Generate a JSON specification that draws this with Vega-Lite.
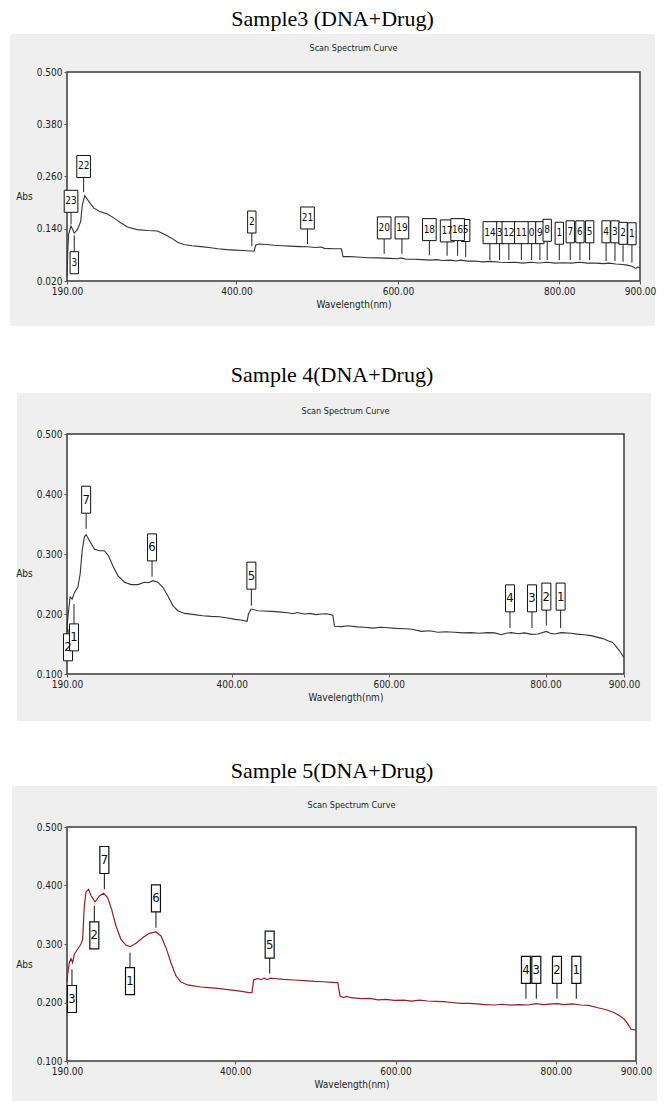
{
"$schema": "https://vega.github.io/schema/vega-lite/v6.json",
"padding": {"left": 10, "top": 8, "right": 9, "bottom": 6},
"background": "white",
"bounds": "flush",
"spacing": 153,
"config": {
 "view": {"stroke": null},
 "title": {"font": "Liberation Serif", "fontSize": 22, "fontWeight": "normal", "color": "#000", "anchor": "middle", "frame": "group"},
 "axis": {"grid": false, "domain": false, "ticks": true, "tickSize": 3, "tickColor": "#555", "labelFont": "Liberation Sans Narrow, Arial Narrow, DejaVu Sans Condensed, Liberation Sans, sans-serif", "labelFontSize": 10, "labelColor": "#222", "labelPadding": 2, "labelFlush": false, "labelOverlap": false, "titleFont": "Liberation Sans Narrow, Arial Narrow, DejaVu Sans Condensed, Liberation Sans, sans-serif", "titleFontSize": 10, "titleFontWeight": "normal", "titleColor": "#222", "zindex": 1}
},
"datasets": {
 "s3": [
  {"wl":190,"abs":0.03},{"wl":191,"abs":0.09},{"wl":192,"abs":0.128},{"wl":195,"abs":0.146},{"wl":199,"abs":0.130},{"wl":203,"abs":0.138},{"wl":207,"abs":0.157},{"wl":209,"abs":0.195},{"wl":212,"abs":0.216},{"wl":217,"abs":0.203},{"wl":223,"abs":0.188},{"wl":230,"abs":0.180},{"wl":240,"abs":0.174},{"wl":248,"abs":0.165},{"wl":257,"abs":0.153},{"wl":265,"abs":0.144},{"wl":277,"abs":0.138},{"wl":290,"abs":0.136},{"wl":302,"abs":0.135},{"wl":310,"abs":0.128},{"wl":319,"abs":0.119},{"wl":327,"abs":0.109},{"wl":335,"abs":0.104},{"wl":345,"abs":0.101},{"wl":356,"abs":0.099},{"wl":366,"abs":0.097},{"wl":377,"abs":0.094},{"wl":388,"abs":0.092},{"wl":398,"abs":0.091},{"wl":408,"abs":0.090},{"wl":418,"abs":0.089},{"wl":422,"abs":0.089},{"wl":424,"abs":0.103},{"wl":428,"abs":0.105},{"wl":437,"abs":0.104},{"wl":447,"abs":0.102},{"wl":457,"abs":0.101},{"wl":467,"abs":0.100},{"wl":478,"abs":0.099},{"wl":488,"abs":0.0985},{"wl":498,"abs":0.097},{"wl":505,"abs":0.098},{"wl":509,"abs":0.095},{"wl":520,"abs":0.094},{"wl":530,"abs":0.094},{"wl":532,"abs":0.076},{"wl":540,"abs":0.076},{"wl":550,"abs":0.075},{"wl":562,"abs":0.0735},{"wl":575,"abs":0.073},{"wl":590,"abs":0.072},{"wl":600,"abs":0.071},{"wl":604,"abs":0.073},{"wl":610,"abs":0.070},{"wl":620,"abs":0.070},{"wl":630,"abs":0.069},{"wl":640,"abs":0.068},{"wl":648,"abs":0.069},{"wl":655,"abs":0.067},{"wl":665,"abs":0.068},{"wl":672,"abs":0.066},{"wl":678,"abs":0.068},{"wl":686,"abs":0.0657},{"wl":695,"abs":0.066},{"wl":705,"abs":0.064},{"wl":715,"abs":0.065},{"wl":727,"abs":0.063},{"wl":735,"abs":0.0625},{"wl":745,"abs":0.063},{"wl":755,"abs":0.061},{"wl":765,"abs":0.063},{"wl":775,"abs":0.0615},{"wl":785,"abs":0.063},{"wl":795,"abs":0.061},{"wl":805,"abs":0.062},{"wl":815,"abs":0.061},{"wl":825,"abs":0.063},{"wl":835,"abs":0.061},{"wl":845,"abs":0.061},{"wl":855,"abs":0.060},{"wl":862,"abs":0.061},{"wl":870,"abs":0.059},{"wl":878,"abs":0.058},{"wl":884,"abs":0.0565},{"wl":890,"abs":0.054},{"wl":895,"abs":0.049},{"wl":897,"abs":0.052},{"wl":900,"abs":0.051}
 ],
 "a3": [
  {"wl":195,"label":"23","tip":0.150,"box":0.203},
  {"wl":199,"label":"3","tip":0.125,"box":0.062},
  {"wl":210.6,"label":"22","tip":0.224,"box":0.283},
  {"wl":419,"label":"2","tip":0.100,"box":0.1555},
  {"wl":488,"label":"21","tip":0.105,"box":0.1647},
  {"wl":583,"label":"20","tip":0.0824,"box":0.142},
  {"wl":605,"label":"19","tip":0.0824,"box":0.142},
  {"wl":639,"label":"18","tip":0.079,"box":0.138},
  {"wl":661,"label":"17","tip":0.078,"box":0.135},
  {"wl":674,"label":"16","tip":0.078,"box":0.138},
  {"wl":684,"label":"5","tip":0.0755,"box":0.136},
  {"wl":714,"label":"14","tip":0.068,"box":0.131},
  {"wl":726,"label":"3","tip":0.068,"box":0.131},
  {"wl":737.5,"label":"12","tip":0.068,"box":0.131},
  {"wl":753,"label":"11","tip":0.068,"box":0.131},
  {"wl":765.7,"label":"0","tip":0.068,"box":0.131},
  {"wl":776,"label":"9","tip":0.068,"box":0.131},
  {"wl":785,"label":"8","tip":0.068,"box":0.1365},
  {"wl":800,"label":"1","tip":0.068,"box":0.1297},
  {"wl":813.6,"label":"7","tip":0.068,"box":0.133},
  {"wl":825.6,"label":"6","tip":0.068,"box":0.133},
  {"wl":837.6,"label":"5","tip":0.068,"box":0.133},
  {"wl":858,"label":"4","tip":0.066,"box":0.133},
  {"wl":869,"label":"3","tip":0.066,"box":0.133},
  {"wl":879,"label":"2","tip":0.064,"box":0.1295},
  {"wl":890,"label":"1","tip":0.062,"box":0.1285}
 ],
 "s4": [
  {"wl":190,"abs":0.17},{"wl":190.4,"abs":0.183},{"wl":192,"abs":0.2055},{"wl":194,"abs":0.228},{"wl":196.6,"abs":0.225},{"wl":199.6,"abs":0.236},{"wl":203.8,"abs":0.2445},{"wl":206.8,"abs":0.267},{"wl":209.3,"abs":0.3055},{"wl":212.3,"abs":0.329},{"wl":214.4,"abs":0.332},{"wl":218.7,"abs":0.322},{"wl":225,"abs":0.308},{"wl":231.4,"abs":0.3055},{"wl":237.8,"abs":0.3055},{"wl":242.9,"abs":0.297},{"wl":248.4,"abs":0.2805},{"wl":254.8,"abs":0.264},{"wl":263.3,"abs":0.253},{"wl":271.8,"abs":0.249},{"wl":280.3,"abs":0.249},{"wl":288.8,"abs":0.253},{"wl":294,"abs":0.252},{"wl":299.4,"abs":0.2556},{"wl":305.8,"abs":0.253},{"wl":312.2,"abs":0.2445},{"wl":318.5,"abs":0.2305},{"wl":324.9,"abs":0.214},{"wl":331.3,"abs":0.2055},{"wl":339.8,"abs":0.201},{"wl":352.5,"abs":0.199},{"wl":363,"abs":0.197},{"wl":373.8,"abs":0.196},{"wl":384,"abs":0.1955},{"wl":395,"abs":0.1933},{"wl":404,"abs":0.191},{"wl":412,"abs":0.19},{"wl":419.6,"abs":0.1878},{"wl":421.3,"abs":0.2},{"wl":424.7,"abs":0.2083},{"wl":433.2,"abs":0.2055},{"wl":441,"abs":0.205},{"wl":450.2,"abs":0.2044},{"wl":460,"abs":0.2035},{"wl":471.4,"abs":0.202},{"wl":478,"abs":0.2005},{"wl":483,"abs":0.2025},{"wl":492.7,"abs":0.2},{"wl":500,"abs":0.201},{"wl":507,"abs":0.199},{"wl":514,"abs":0.2},{"wl":521,"abs":0.2005},{"wl":528.8,"abs":0.198},{"wl":531,"abs":0.1795},{"wl":540,"abs":0.179},{"wl":548,"abs":0.1805},{"wl":560,"abs":0.1785},{"wl":569.4,"abs":0.178},{"wl":580,"abs":0.1765},{"wl":590,"abs":0.178},{"wl":599,"abs":0.177},{"wl":610,"abs":0.176},{"wl":620.4,"abs":0.1755},{"wl":630,"abs":0.1745},{"wl":641.6,"abs":0.171},{"wl":652,"abs":0.172},{"wl":662.9,"abs":0.1695},{"wl":673,"abs":0.1705},{"wl":684,"abs":0.1695},{"wl":695,"abs":0.1685},{"wl":705.4,"abs":0.169},{"wl":715,"abs":0.168},{"wl":726.6,"abs":0.169},{"wl":735,"abs":0.1685},{"wl":743.6,"abs":0.1655},{"wl":750,"abs":0.168},{"wl":756.3,"abs":0.169},{"wl":765,"abs":0.167},{"wl":773.3,"abs":0.1685},{"wl":782,"abs":0.166},{"wl":790.3,"abs":0.1667},{"wl":801,"abs":0.171},{"wl":806,"abs":0.168},{"wl":811.6,"abs":0.1667},{"wl":820,"abs":0.169},{"wl":832.8,"abs":0.168},{"wl":840,"abs":0.1665},{"wl":849.8,"abs":0.1655},{"wl":858,"abs":0.164},{"wl":866.8,"abs":0.161},{"wl":873,"abs":0.159},{"wl":879.6,"abs":0.1555},{"wl":885,"abs":0.153},{"wl":890.2,"abs":0.1455},{"wl":895,"abs":0.137},{"wl":899.5,"abs":0.1278}
 ],
 "a4": [
  {"wl":191.3,"label":"2","tip":0.175,"box":0.1445},
  {"wl":198.9,"label":"1","tip":0.2167,"box":0.161},
  {"wl":214.4,"label":"7","tip":0.342,"box":0.3905},
  {"wl":298.4,"label":"6","tip":0.2622,"box":0.311},
  {"wl":425,"label":"5","tip":0.2139,"box":0.2639},
  {"wl":754.7,"label":"4","tip":0.1767,"box":0.2261},
  {"wl":782.7,"label":"3","tip":0.1767,"box":0.2261},
  {"wl":801,"label":"2","tip":0.1806,"box":0.229},
  {"wl":819.2,"label":"1","tip":0.1767,"box":0.229}
 ],
 "s5": [
  {"wl":190,"abs":0.235},{"wl":190.8,"abs":0.2482},{"wl":192.9,"abs":0.268},{"wl":195,"abs":0.2749},{"wl":197,"abs":0.268},{"wl":199.1,"abs":0.2824},{"wl":203.2,"abs":0.291},{"wl":207.4,"abs":0.2995},{"wl":209.5,"abs":0.308},{"wl":211.6,"abs":0.365},{"wl":213.7,"abs":0.389},{"wl":217,"abs":0.3935},{"wl":219.9,"abs":0.383},{"wl":224.9,"abs":0.3718},{"wl":230.3,"abs":0.382},{"wl":235.7,"abs":0.3867},{"wl":240.7,"abs":0.3792},{"wl":245.7,"abs":0.3593},{"wl":251.1,"abs":0.3308},{"wl":257.3,"abs":0.308},{"wl":263.6,"abs":0.2977},{"wl":269,"abs":0.2954},{"wl":276.1,"abs":0.3012},{"wl":284.4,"abs":0.3108},{"wl":292.7,"abs":0.3183},{"wl":301,"abs":0.3205},{"wl":307.3,"abs":0.3137},{"wl":313.5,"abs":0.2937},{"wl":319.7,"abs":0.268},{"wl":326,"abs":0.2453},{"wl":332.2,"abs":0.235},{"wl":340.5,"abs":0.23},{"wl":348,"abs":0.2285},{"wl":357.2,"abs":0.2265},{"wl":367,"abs":0.2255},{"wl":378,"abs":0.2243},{"wl":388,"abs":0.2225},{"wl":398.8,"abs":0.2208},{"wl":408,"abs":0.219},{"wl":417.5,"abs":0.2168},{"wl":420.8,"abs":0.2168},{"wl":422.9,"abs":0.2385},{"wl":427.9,"abs":0.2413},{"wl":432,"abs":0.239},{"wl":436,"abs":0.2415},{"wl":440,"abs":0.239},{"wl":444,"abs":0.2415},{"wl":448.7,"abs":0.241},{"wl":460,"abs":0.2395},{"wl":473.7,"abs":0.2385},{"wl":486,"abs":0.2375},{"wl":498.7,"abs":0.2362},{"wl":510,"abs":0.2355},{"wl":520,"abs":0.2345},{"wl":527.8,"abs":0.2339},{"wl":530.7,"abs":0.2111},{"wl":535,"abs":0.2085},{"wl":539,"abs":0.2105},{"wl":544.5,"abs":0.2082},{"wl":557,"abs":0.2065},{"wl":568,"abs":0.207},{"wl":578,"abs":0.2045},{"wl":588,"abs":0.2055},{"wl":598.4,"abs":0.2037},{"wl":610,"abs":0.204},{"wl":620,"abs":0.2025},{"wl":630,"abs":0.204},{"wl":640,"abs":0.2026},{"wl":650,"abs":0.202},{"wl":660,"abs":0.2015},{"wl":670,"abs":0.2},{"wl":681.6,"abs":0.1986},{"wl":692,"abs":0.1985},{"wl":702,"abs":0.1975},{"wl":712,"abs":0.1965},{"wl":723.2,"abs":0.1957},{"wl":733,"abs":0.197},{"wl":743,"abs":0.1955},{"wl":754,"abs":0.1965},{"wl":764.8,"abs":0.1957},{"wl":775,"abs":0.198},{"wl":785,"abs":0.1965},{"wl":795,"abs":0.1975},{"wl":802.2,"abs":0.198},{"wl":810,"abs":0.1965},{"wl":820,"abs":0.1975},{"wl":831.4,"abs":0.1957},{"wl":841,"abs":0.195},{"wl":852.2,"abs":0.1911},{"wl":862,"abs":0.188},{"wl":873,"abs":0.1826},{"wl":880,"abs":0.177},{"wl":885.4,"abs":0.1713},{"wl":890,"abs":0.163},{"wl":893.8,"abs":0.1542},{"wl":897,"abs":0.1535},{"wl":900,"abs":0.153}
 ],
 "a5": [
  {"wl":196.2,"label":"3","tip":0.2567,"box":0.206},
  {"wl":224.1,"label":"2","tip":0.365,"box":0.3148},
  {"wl":236.6,"label":"7","tip":0.3935,"box":0.4436},
  {"wl":268.6,"label":"1","tip":0.2852,"box":0.2367},
  {"wl":301,"label":"6","tip":0.3279,"box":0.3781},
  {"wl":442.9,"label":"5","tip":0.2493,"box":0.2989},
  {"wl":762.7,"label":"4","tip":0.2065,"box":0.2556},
  {"wl":775.6,"label":"3","tip":0.2065,"box":0.2556},
  {"wl":801.4,"label":"2","tip":0.2065,"box":0.2556},
  {"wl":825.5,"label":"1","tip":0.2065,"box":0.2556}
 ],
 "p3": [{"panel":"Sample3"}],
 "p4": [{"panel":"Sample4"}],
 "p5": [{"panel":"Sample5"}]
},
"vconcat": [
 {
  "width": 573, "height": 209,
  "title": {"text": "Sample3 (DNA+Drug)", "dx": -21, "offset": 3},
  "layer": [
   {"data": {"name": "p3"}, "mark": {"type": "rect", "fill": "#efefef"},
    "encoding": {"x": {"datum": 119.4, "type": "quantitative", "scale": {"domain": [190, 900], "nice": false, "zero": false}, "axis": {"values": [190, 400, 600, 800, 900], "format": ".2f", "title": "Wavelength(nm)", "titlePadding": 3, "zindex": 1}}, "x2": {"datum": 918.6},
                 "y": {"datum": 0.587, "type": "quantitative", "scale": {"domain": [0.02, 0.5], "nice": false, "zero": false}, "axis": {"values": [0.02, 0.14, 0.26, 0.38, 0.5], "format": ".3f", "title": "Abs", "titleAngle": 0, "titleAlign": "center", "titleBaseline": "middle", "titleX": -43, "titleY": 124, "zindex": 1}}, "y2": {"datum": -0.083}}},
   {"data": {"name": "p3"}, "mark": {"type": "rect", "fill": "white", "stroke": "#3a3a3a", "strokeWidth": 1.5},
    "encoding": {"x": {"datum": 190, "type": "quantitative", "scale": {"domain": [190, 900], "nice": false, "zero": false}, "axis": {"values": [190, 400, 600, 800, 900], "format": ".2f", "title": "Wavelength(nm)", "titlePadding": 3, "zindex": 1}}, "x2": {"datum": 900},
                 "y": {"datum": 0.02, "type": "quantitative", "scale": {"domain": [0.02, 0.5], "nice": false, "zero": false}, "axis": {"values": [0.02, 0.14, 0.26, 0.38, 0.5], "format": ".3f", "title": "Abs", "titleAngle": 0, "titleAlign": "center", "titleBaseline": "middle", "titleX": -43, "titleY": 124, "zindex": 1}}, "y2": {"datum": 0.5}}},
   {"data": {"name": "p3"}, "mark": {"type": "text", "text": "Scan Spectrum Curve", "font": "Liberation Sans Narrow, Arial Narrow, DejaVu Sans Condensed, Liberation Sans, sans-serif", "fontSize": 9, "color": "#222"},
    "encoding": {"x": {"datum": 545, "type": "quantitative", "scale": {"domain": [190, 900], "nice": false, "zero": false}, "axis": {"values": [190, 400, 600, 800, 900], "format": ".2f", "title": "Wavelength(nm)", "titlePadding": 3, "zindex": 1}},
                 "y": {"datum": 0.555, "type": "quantitative", "scale": {"domain": [0.02, 0.5], "nice": false, "zero": false}, "axis": {"values": [0.02, 0.14, 0.26, 0.38, 0.5], "format": ".3f", "title": "Abs", "titleAngle": 0, "titleAlign": "center", "titleBaseline": "middle", "titleX": -43, "titleY": 124, "zindex": 1}}}},
   {"data": {"name": "s3"}, "mark": {"type": "line", "color": "#333", "strokeWidth": 1.1},
    "encoding": {"x": {"field": "wl", "type": "quantitative", "scale": {"domain": [190, 900], "nice": false, "zero": false}, "axis": {"values": [190, 400, 600, 800, 900], "format": ".2f", "title": "Wavelength(nm)", "titlePadding": 3, "zindex": 1}},
                 "y": {"field": "abs", "type": "quantitative", "scale": {"domain": [0.02, 0.5], "nice": false, "zero": false}, "axis": {"values": [0.02, 0.14, 0.26, 0.38, 0.5], "format": ".3f", "title": "Abs", "titleAngle": 0, "titleAlign": "center", "titleBaseline": "middle", "titleX": -43, "titleY": 124, "zindex": 1}}}},
   {"data": {"name": "a3"}, "mark": {"type": "rule", "color": "#222", "strokeWidth": 1},
    "encoding": {"x": {"field": "wl", "type": "quantitative", "scale": {"domain": [190, 900], "nice": false, "zero": false}, "axis": {"values": [190, 400, 600, 800, 900], "format": ".2f", "title": "Wavelength(nm)", "titlePadding": 3, "zindex": 1}},
                 "y": {"field": "tip", "type": "quantitative", "scale": {"domain": [0.02, 0.5], "nice": false, "zero": false}, "axis": {"values": [0.02, 0.14, 0.26, 0.38, 0.5], "format": ".3f", "title": "Abs", "titleAngle": 0, "titleAlign": "center", "titleBaseline": "middle", "titleX": -43, "titleY": 124, "zindex": 1}}, "y2": {"field": "box"}}},
   {"data": {"name": "a3"}, "transform": [{"filter": "length(datum.label) == 1"}],
    "mark": {"type": "point", "shape": "M-0.38,-1L0.38,-1L0.38,1L-0.38,1Z", "size": 484, "filled": true, "fill": "white", "stroke": "#111", "strokeWidth": 1, "opacity": 1},
    "encoding": {"x": {"field": "wl", "type": "quantitative", "scale": {"domain": [190, 900], "nice": false, "zero": false}, "axis": {"values": [190, 400, 600, 800, 900], "format": ".2f", "title": "Wavelength(nm)", "titlePadding": 3, "zindex": 1}},
                 "y": {"field": "box", "type": "quantitative", "scale": {"domain": [0.02, 0.5], "nice": false, "zero": false}, "axis": {"values": [0.02, 0.14, 0.26, 0.38, 0.5], "format": ".3f", "title": "Abs", "titleAngle": 0, "titleAlign": "center", "titleBaseline": "middle", "titleX": -43, "titleY": 124, "zindex": 1}}}},
   {"data": {"name": "a3"}, "transform": [{"filter": "length(datum.label) == 2"}],
    "mark": {"type": "point", "shape": "M-0.62,-1L0.62,-1L0.62,1L-0.62,1Z", "size": 484, "filled": true, "fill": "white", "stroke": "#111", "strokeWidth": 1, "opacity": 1},
    "encoding": {"x": {"field": "wl", "type": "quantitative", "scale": {"domain": [190, 900], "nice": false, "zero": false}, "axis": {"values": [190, 400, 600, 800, 900], "format": ".2f", "title": "Wavelength(nm)", "titlePadding": 3, "zindex": 1}},
                 "y": {"field": "box", "type": "quantitative", "scale": {"domain": [0.02, 0.5], "nice": false, "zero": false}, "axis": {"values": [0.02, 0.14, 0.26, 0.38, 0.5], "format": ".3f", "title": "Abs", "titleAngle": 0, "titleAlign": "center", "titleBaseline": "middle", "titleX": -43, "titleY": 124, "zindex": 1}}}},
   {"data": {"name": "a3"}, "mark": {"type": "text", "font": "Liberation Sans Narrow, Arial Narrow, DejaVu Sans Condensed, Liberation Sans, sans-serif", "fontSize": 10, "color": "#111", "baseline": "middle", "align": "center"},
    "encoding": {"x": {"field": "wl", "type": "quantitative", "scale": {"domain": [190, 900], "nice": false, "zero": false}, "axis": {"values": [190, 400, 600, 800, 900], "format": ".2f", "title": "Wavelength(nm)", "titlePadding": 3, "zindex": 1}},
                 "y": {"field": "box", "type": "quantitative", "scale": {"domain": [0.02, 0.5], "nice": false, "zero": false}, "axis": {"values": [0.02, 0.14, 0.26, 0.38, 0.5], "format": ".3f", "title": "Abs", "titleAngle": 0, "titleAlign": "center", "titleBaseline": "middle", "titleX": -43, "titleY": 124, "zindex": 1}},
                 "text": {"field": "label"}}}
  ]
 },
 {
  "width": 557, "height": 240,
  "title": {"text": "Sample 4(DNA+Drug)", "dx": -13.5, "offset": 6},
  "layer": [
   {"data": {"name": "p4"}, "mark": {"type": "rect", "fill": "#efefef"},
    "encoding": {"x": {"datum": 126.3, "type": "quantitative", "scale": {"domain": [190, 900], "nice": false, "zero": false}, "axis": {"values": [190, 400, 600, 800, 900], "format": ".2f", "title": "Wavelength(nm)", "titlePadding": 3, "zindex": 1}}, "x2": {"datum": 934.4},
                 "y": {"datum": 0.568, "type": "quantitative", "scale": {"domain": [0.1, 0.5], "nice": false, "zero": false}, "axis": {"values": [0.1, 0.2, 0.3, 0.4, 0.5], "format": ".3f", "title": "Abs", "titleAngle": 0, "titleAlign": "center", "titleBaseline": "middle", "titleX": -43, "titleY": 139, "zindex": 1}}, "y2": {"datum": 0.0217}}},
   {"data": {"name": "p4"}, "mark": {"type": "rect", "fill": "white", "stroke": "#3a3a3a", "strokeWidth": 1.5},
    "encoding": {"x": {"datum": 190, "type": "quantitative", "scale": {"domain": [190, 900], "nice": false, "zero": false}, "axis": {"values": [190, 400, 600, 800, 900], "format": ".2f", "title": "Wavelength(nm)", "titlePadding": 3, "zindex": 1}}, "x2": {"datum": 900},
                 "y": {"datum": 0.1, "type": "quantitative", "scale": {"domain": [0.1, 0.5], "nice": false, "zero": false}, "axis": {"values": [0.1, 0.2, 0.3, 0.4, 0.5], "format": ".3f", "title": "Abs", "titleAngle": 0, "titleAlign": "center", "titleBaseline": "middle", "titleX": -43, "titleY": 139, "zindex": 1}}, "y2": {"datum": 0.5}}},
   {"data": {"name": "p4"}, "mark": {"type": "text", "text": "Scan Spectrum Curve", "font": "Liberation Sans Narrow, Arial Narrow, DejaVu Sans Condensed, Liberation Sans, sans-serif", "fontSize": 9, "color": "#222"},
    "encoding": {"x": {"datum": 545, "type": "quantitative", "scale": {"domain": [190, 900], "nice": false, "zero": false}, "axis": {"values": [190, 400, 600, 800, 900], "format": ".2f", "title": "Wavelength(nm)", "titlePadding": 3, "zindex": 1}},
                 "y": {"datum": 0.538, "type": "quantitative", "scale": {"domain": [0.1, 0.5], "nice": false, "zero": false}, "axis": {"values": [0.1, 0.2, 0.3, 0.4, 0.5], "format": ".3f", "title": "Abs", "titleAngle": 0, "titleAlign": "center", "titleBaseline": "middle", "titleX": -43, "titleY": 139, "zindex": 1}}}},
   {"data": {"name": "s4"}, "mark": {"type": "line", "color": "#333", "strokeWidth": 1.1},
    "encoding": {"x": {"field": "wl", "type": "quantitative", "scale": {"domain": [190, 900], "nice": false, "zero": false}, "axis": {"values": [190, 400, 600, 800, 900], "format": ".2f", "title": "Wavelength(nm)", "titlePadding": 3, "zindex": 1}},
                 "y": {"field": "abs", "type": "quantitative", "scale": {"domain": [0.1, 0.5], "nice": false, "zero": false}, "axis": {"values": [0.1, 0.2, 0.3, 0.4, 0.5], "format": ".3f", "title": "Abs", "titleAngle": 0, "titleAlign": "center", "titleBaseline": "middle", "titleX": -43, "titleY": 139, "zindex": 1}}}},
   {"data": {"name": "a4"}, "mark": {"type": "rule", "color": "#222", "strokeWidth": 1},
    "encoding": {"x": {"field": "wl", "type": "quantitative", "scale": {"domain": [190, 900], "nice": false, "zero": false}, "axis": {"values": [190, 400, 600, 800, 900], "format": ".2f", "title": "Wavelength(nm)", "titlePadding": 3, "zindex": 1}},
                 "y": {"field": "tip", "type": "quantitative", "scale": {"domain": [0.1, 0.5], "nice": false, "zero": false}, "axis": {"values": [0.1, 0.2, 0.3, 0.4, 0.5], "format": ".3f", "title": "Abs", "titleAngle": 0, "titleAlign": "center", "titleBaseline": "middle", "titleX": -43, "titleY": 139, "zindex": 1}}, "y2": {"field": "box"}}},
   {"data": {"name": "a4"},
    "mark": {"type": "point", "shape": "M-0.333,-1L0.333,-1L0.333,1L-0.333,1Z", "size": 729, "filled": true, "fill": "white", "stroke": "#111", "strokeWidth": 1, "opacity": 1},
    "encoding": {"x": {"field": "wl", "type": "quantitative", "scale": {"domain": [190, 900], "nice": false, "zero": false}, "axis": {"values": [190, 400, 600, 800, 900], "format": ".2f", "title": "Wavelength(nm)", "titlePadding": 3, "zindex": 1}},
                 "y": {"field": "box", "type": "quantitative", "scale": {"domain": [0.1, 0.5], "nice": false, "zero": false}, "axis": {"values": [0.1, 0.2, 0.3, 0.4, 0.5], "format": ".3f", "title": "Abs", "titleAngle": 0, "titleAlign": "center", "titleBaseline": "middle", "titleX": -43, "titleY": 139, "zindex": 1}}}},
   {"data": {"name": "a4"}, "mark": {"type": "text", "font": "Liberation Sans Narrow, Arial Narrow, DejaVu Sans Condensed, Liberation Sans, sans-serif", "fontSize": 13, "color": "#111", "baseline": "middle", "align": "center"},
    "encoding": {"x": {"field": "wl", "type": "quantitative", "scale": {"domain": [190, 900], "nice": false, "zero": false}, "axis": {"values": [190, 400, 600, 800, 900], "format": ".2f", "title": "Wavelength(nm)", "titlePadding": 3, "zindex": 1}},
                 "y": {"field": "box", "type": "quantitative", "scale": {"domain": [0.1, 0.5], "nice": false, "zero": false}, "axis": {"values": [0.1, 0.2, 0.3, 0.4, 0.5], "format": ".3f", "title": "Abs", "titleAngle": 0, "titleAlign": "center", "titleBaseline": "middle", "titleX": -43, "titleY": 139, "zindex": 1}},
                 "text": {"field": "label"}}}
  ]
 },
 {
  "width": 569, "height": 234,
  "title": {"text": "Sample 5(DNA+Drug)", "dx": -19.5, "offset": 3},
  "layer": [
   {"data": {"name": "p5"}, "mark": {"type": "rect", "fill": "#efefef"},
    "encoding": {"x": {"datum": 121.4, "type": "quantitative", "scale": {"domain": [190, 900], "nice": false, "zero": false}, "axis": {"values": [190, 400, 600, 800, 900], "format": ".2f", "title": "Wavelength(nm)", "titlePadding": 3, "zindex": 1}}, "x2": {"datum": 926.2},
                 "y": {"datum": 0.57, "type": "quantitative", "scale": {"domain": [0.1, 0.5], "nice": false, "zero": false}, "axis": {"values": [0.1, 0.2, 0.3, 0.4, 0.5], "format": ".3f", "title": "Abs", "titleAngle": 0, "titleAlign": "center", "titleBaseline": "middle", "titleX": -43, "titleY": 137, "zindex": 1}}, "y2": {"datum": 0.0316}}},
   {"data": {"name": "p5"}, "mark": {"type": "rect", "fill": "white", "stroke": "#3a3a3a", "strokeWidth": 1.5},
    "encoding": {"x": {"datum": 190, "type": "quantitative", "scale": {"domain": [190, 900], "nice": false, "zero": false}, "axis": {"values": [190, 400, 600, 800, 900], "format": ".2f", "title": "Wavelength(nm)", "titlePadding": 3, "zindex": 1}}, "x2": {"datum": 900},
                 "y": {"datum": 0.1, "type": "quantitative", "scale": {"domain": [0.1, 0.5], "nice": false, "zero": false}, "axis": {"values": [0.1, 0.2, 0.3, 0.4, 0.5], "format": ".3f", "title": "Abs", "titleAngle": 0, "titleAlign": "center", "titleBaseline": "middle", "titleX": -43, "titleY": 137, "zindex": 1}}, "y2": {"datum": 0.5}}},
   {"data": {"name": "p5"}, "mark": {"type": "text", "text": "Scan Spectrum Curve", "font": "Liberation Sans Narrow, Arial Narrow, DejaVu Sans Condensed, Liberation Sans, sans-serif", "fontSize": 9, "color": "#222"},
    "encoding": {"x": {"datum": 545, "type": "quantitative", "scale": {"domain": [190, 900], "nice": false, "zero": false}, "axis": {"values": [190, 400, 600, 800, 900], "format": ".2f", "title": "Wavelength(nm)", "titlePadding": 3, "zindex": 1}},
                 "y": {"datum": 0.5376, "type": "quantitative", "scale": {"domain": [0.1, 0.5], "nice": false, "zero": false}, "axis": {"values": [0.1, 0.2, 0.3, 0.4, 0.5], "format": ".3f", "title": "Abs", "titleAngle": 0, "titleAlign": "center", "titleBaseline": "middle", "titleX": -43, "titleY": 137, "zindex": 1}}}},
   {"data": {"name": "s5"}, "mark": {"type": "line", "color": "#952020", "strokeWidth": 1.2},
    "encoding": {"x": {"field": "wl", "type": "quantitative", "scale": {"domain": [190, 900], "nice": false, "zero": false}, "axis": {"values": [190, 400, 600, 800, 900], "format": ".2f", "title": "Wavelength(nm)", "titlePadding": 3, "zindex": 1}},
                 "y": {"field": "abs", "type": "quantitative", "scale": {"domain": [0.1, 0.5], "nice": false, "zero": false}, "axis": {"values": [0.1, 0.2, 0.3, 0.4, 0.5], "format": ".3f", "title": "Abs", "titleAngle": 0, "titleAlign": "center", "titleBaseline": "middle", "titleX": -43, "titleY": 137, "zindex": 1}}}},
   {"data": {"name": "a5"}, "mark": {"type": "rule", "color": "#111", "strokeWidth": 1},
    "encoding": {"x": {"field": "wl", "type": "quantitative", "scale": {"domain": [190, 900], "nice": false, "zero": false}, "axis": {"values": [190, 400, 600, 800, 900], "format": ".2f", "title": "Wavelength(nm)", "titlePadding": 3, "zindex": 1}},
                 "y": {"field": "tip", "type": "quantitative", "scale": {"domain": [0.1, 0.5], "nice": false, "zero": false}, "axis": {"values": [0.1, 0.2, 0.3, 0.4, 0.5], "format": ".3f", "title": "Abs", "titleAngle": 0, "titleAlign": "center", "titleBaseline": "middle", "titleX": -43, "titleY": 137, "zindex": 1}}, "y2": {"field": "box"}}},
   {"data": {"name": "a5"},
    "mark": {"type": "point", "shape": "M-0.333,-1L0.333,-1L0.333,1L-0.333,1Z", "size": 729, "filled": true, "fill": "white", "stroke": "#111", "strokeWidth": 1.2, "opacity": 1},
    "encoding": {"x": {"field": "wl", "type": "quantitative", "scale": {"domain": [190, 900], "nice": false, "zero": false}, "axis": {"values": [190, 400, 600, 800, 900], "format": ".2f", "title": "Wavelength(nm)", "titlePadding": 3, "zindex": 1}},
                 "y": {"field": "box", "type": "quantitative", "scale": {"domain": [0.1, 0.5], "nice": false, "zero": false}, "axis": {"values": [0.1, 0.2, 0.3, 0.4, 0.5], "format": ".3f", "title": "Abs", "titleAngle": 0, "titleAlign": "center", "titleBaseline": "middle", "titleX": -43, "titleY": 137, "zindex": 1}}}},
   {"data": {"name": "a5"}, "mark": {"type": "text", "font": "Liberation Sans Narrow, Arial Narrow, DejaVu Sans Condensed, Liberation Sans, sans-serif", "fontSize": 13, "color": "#111", "baseline": "middle", "align": "center"},
    "encoding": {"x": {"field": "wl", "type": "quantitative", "scale": {"domain": [190, 900], "nice": false, "zero": false}, "axis": {"values": [190, 400, 600, 800, 900], "format": ".2f", "title": "Wavelength(nm)", "titlePadding": 3, "zindex": 1}},
                 "y": {"field": "box", "type": "quantitative", "scale": {"domain": [0.1, 0.5], "nice": false, "zero": false}, "axis": {"values": [0.1, 0.2, 0.3, 0.4, 0.5], "format": ".3f", "title": "Abs", "titleAngle": 0, "titleAlign": "center", "titleBaseline": "middle", "titleX": -43, "titleY": 137, "zindex": 1}},
                 "text": {"field": "label"}}}
  ]
 }
]
}
